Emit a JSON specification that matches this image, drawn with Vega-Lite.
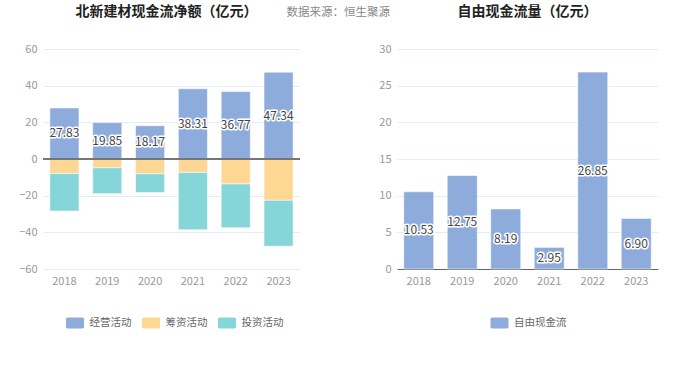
{
  "$schema": "https://vega.github.io/schema/vega-lite/v6.json",
  "padding": {"left": 18, "top": 5, "right": 5, "bottom": 5},
  "background": "#ffffff",
  "title": {"text": "数据来源：恒生聚源", "anchor": "middle", "fontSize": 11.5, "fontWeight": "normal", "color": "#888888", "offset": -13},
  "datasets": {
    "flow": [
      {"year": "2018", "type": "经营活动", "ord": 1, "value": 27.83},
      {"year": "2019", "type": "经营活动", "ord": 1, "value": 19.85},
      {"year": "2020", "type": "经营活动", "ord": 1, "value": 18.17},
      {"year": "2021", "type": "经营活动", "ord": 1, "value": 38.31},
      {"year": "2022", "type": "经营活动", "ord": 1, "value": 36.77},
      {"year": "2023", "type": "经营活动", "ord": 1, "value": 47.34},
      {"year": "2018", "type": "筹资活动", "ord": 2, "value": -7.9},
      {"year": "2019", "type": "筹资活动", "ord": 2, "value": -4.8},
      {"year": "2020", "type": "筹资活动", "ord": 2, "value": -8.1},
      {"year": "2021", "type": "筹资活动", "ord": 2, "value": -7.3},
      {"year": "2022", "type": "筹资活动", "ord": 2, "value": -13.6},
      {"year": "2023", "type": "筹资活动", "ord": 2, "value": -22.5},
      {"year": "2018", "type": "投资活动", "ord": 3, "value": -20.5},
      {"year": "2019", "type": "投资活动", "ord": 3, "value": -14.1},
      {"year": "2020", "type": "投资活动", "ord": 3, "value": -10.2},
      {"year": "2021", "type": "投资活动", "ord": 3, "value": -31.3},
      {"year": "2022", "type": "投资活动", "ord": 3, "value": -23.9},
      {"year": "2023", "type": "投资活动", "ord": 3, "value": -25.1}
    ],
    "fcf": [
      {"year": "2018", "type": "自由现金流", "value": 10.53},
      {"year": "2019", "type": "自由现金流", "value": 12.75},
      {"year": "2020", "type": "自由现金流", "value": 8.19},
      {"year": "2021", "type": "自由现金流", "value": 2.95},
      {"year": "2022", "type": "自由现金流", "value": 26.85},
      {"year": "2023", "type": "自由现金流", "value": 6.90}
    ]
  },
  "spacing": 77,
  "hconcat": [
    {
      "width": 257,
      "height": 220,
      "title": {"text": "北新建材现金流净额（亿元）", "fontSize": 14, "fontWeight": "bold", "color": "#222222", "offset": 24, "anchor": "middle", "dx": -5},
      "data": {"name": "flow"},
      "encoding": {
        "x": {"field": "year", "type": "nominal", "scale": {"paddingInner": 0.32, "paddingOuter": 0.16},
              "axis": {"title": null, "labelAngle": 0, "ticks": false, "domain": false, "labelPadding": 6}}
      },
      "layer": [
        {
          "mark": {"type": "bar", "stroke": "#ffffff", "strokeWidth": 0.8, "strokeOpacity": 0.7},
          "encoding": {
            "y": {"field": "value", "type": "quantitative", "stack": "zero",
                  "scale": {"domain": [-60, 60], "nice": false},
                  "axis": {"title": null, "values": [-60, -40, -20, 0, 20, 40, 60], "labelOverlap": false}},
            "color": {"field": "type", "type": "nominal",
                      "scale": {"domain": ["经营活动", "筹资活动", "投资活动"], "range": ["#8eacdb", "#ffd794", "#86d6d9"]},
                      "legend": {"orient": "none", "legendX": 26.5, "legendY": 268.5, "direction": "horizontal", "title": null,
                                 "encode": {"symbols": {"update": {"fill": {"signal": "datum.value === '筹资活动' ? '#ffe8c6' : datum.value === '投资活动' ? '#c2eaeb' : '#8eacdb'"}}}}}},
            "order": {"field": "ord", "type": "quantitative"}
          }
        },
        {
          "mark": {"type": "rule", "color": "#777777", "strokeWidth": 1},
          "encoding": {"y": {"datum": 0, "type": "quantitative", "axis": {"title": null, "values": [-60, -40, -20, 0, 20, 40, 60], "labelOverlap": false}}, "x": {}}
        },
        {
          "transform": [{"filter": "datum.type === '经营活动'"}, {"calculate": "datum.value / 2", "as": "mid"}],
          "mark": {"type": "text", "fontSize": 12, "stroke": "#ffffff", "strokeWidth": 3, "strokeJoin": "round", "fill": "#ffffff"},
          "encoding": {"y": {"field": "mid", "type": "quantitative", "axis": {"title": null, "values": [-60, -40, -20, 0, 20, 40, 60], "labelOverlap": false}}, "text": {"field": "value", "type": "quantitative", "format": ".2f"}}
        },
        {
          "transform": [{"filter": "datum.type === '经营活动'"}, {"calculate": "datum.value / 2", "as": "mid"}],
          "mark": {"type": "text", "fontSize": 12, "fill": "#444444"},
          "encoding": {"y": {"field": "mid", "type": "quantitative", "axis": {"title": null, "values": [-60, -40, -20, 0, 20, 40, 60], "labelOverlap": false}}, "text": {"field": "value", "type": "quantitative", "format": ".2f"}}
        }
      ]
    },
    {
      "width": 261,
      "height": 220,
      "title": {"text": "自由现金流量（亿元）", "fontSize": 14, "fontWeight": "bold", "color": "#222222", "offset": 24, "anchor": "middle"},
      "data": {"name": "fcf"},
      "encoding": {
        "x": {"field": "year", "type": "nominal", "scale": {"paddingInner": 0.31, "paddingOuter": 0.155},
              "axis": {"title": null, "labelAngle": 0, "ticks": false, "domain": true, "domainColor": "#666666", "labelPadding": 6}}
      },
      "layer": [
        {
          "mark": {"type": "bar", "stroke": "#ffffff", "strokeWidth": 0.8, "strokeOpacity": 0.7},
          "encoding": {
            "y": {"field": "value", "type": "quantitative",
                  "scale": {"domain": [0, 30], "nice": false},
                  "axis": {"title": null, "values": [0, 5, 10, 15, 20, 25, 30], "labelOverlap": false}},
            "color": {"field": "type", "type": "nominal",
                      "scale": {"domain": ["自由现金流"], "range": ["#8eacdb"]},
                      "legend": {"orient": "none", "legendX": 97, "legendY": 268.5, "direction": "horizontal", "title": null}}
          }
        },
        {
          "transform": [{"calculate": "datum.value / 2", "as": "mid"}],
          "mark": {"type": "text", "fontSize": 12, "stroke": "#ffffff", "strokeWidth": 3, "strokeJoin": "round", "fill": "#ffffff"},
          "encoding": {"y": {"field": "mid", "type": "quantitative", "axis": {"title": null, "values": [0, 5, 10, 15, 20, 25, 30], "labelOverlap": false}}, "text": {"field": "value", "type": "quantitative", "format": ".2f"}}
        },
        {
          "transform": [{"calculate": "datum.value / 2", "as": "mid"}],
          "mark": {"type": "text", "fontSize": 12, "fill": "#444444"},
          "encoding": {"y": {"field": "mid", "type": "quantitative", "axis": {"title": null, "values": [0, 5, 10, 15, 20, 25, 30], "labelOverlap": false}}, "text": {"field": "value", "type": "quantitative", "format": ".2f"}}
        }
      ]
    }
  ],
  "resolve": {"scale": {"color": "independent", "y": "independent", "x": "independent"}, "legend": {"color": "independent"}},
  "config": {
    "font": "Noto Sans CJK SC",
    "view": {"stroke": null},
    "axis": {"labelColor": "#999999", "labelFontSize": 11, "gridColor": "#e6ebf4", "grid": false, "labelOverlap": false},
    "axisY": {"grid": true, "domain": false, "ticks": false, "labelPadding": 6, "labelOverlap": false},
    "legend": {
      "labelFontSize": 10.5, "labelColor": "#666666", "symbolSize": 121, "symbolStrokeWidth": 0,
      "symbolType": "M-1.34,-1 L1.34,-1 Q1.64,-1 1.64,-0.7 L1.64,0.7 Q1.64,1 1.34,1 L-1.34,1 Q-1.64,1 -1.64,0.7 L-1.64,-0.7 Q-1.64,-1 -1.34,-1 Z",
      "columnPadding": 10, "labelOffset": 9
    }
  }
}
